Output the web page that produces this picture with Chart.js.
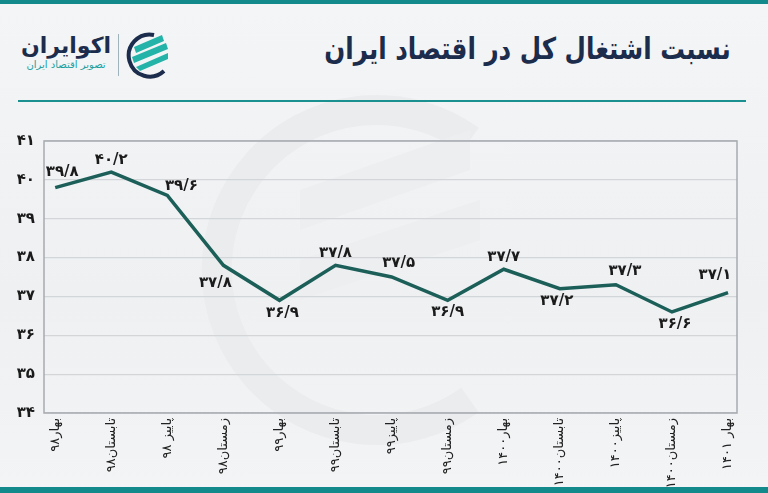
<!DOCTYPE html>
<html lang="fa">
<head>
<meta charset="utf-8">
<script src="https://cdn.jsdelivr.net/npm/chart.js@4"></script>
<style>
  html,body{margin:0;padding:0;}
  body{width:768px;height:493px;position:relative;overflow:hidden;
       background:linear-gradient(180deg,#f4f5f6 0%,#eef0f2 60%,#f3f4f5 100%);
       font-family:"DejaVu Sans",sans-serif;}
  .band{position:absolute;left:0;width:768px;background:#12898a;}
  #title{position:absolute;right:37px;top:31px;direction:rtl;font-weight:bold;
         font-size:30px;color:#1c2c4c;white-space:nowrap;letter-spacing:-0.5px;
         transform:scaleX(0.82);transform-origin:right center;}
  #rule{position:absolute;left:18px;width:728px;top:100px;height:2px;background:#1a9090;}
  #brand{position:absolute;left:16px;top:33px;width:100px;direction:rtl;text-align:center;}
  #brand .n{font-weight:bold;font-size:22px;color:#1c2c4c;line-height:25px;}
  #brand .s{font-size:10px;color:#1ca0a0;line-height:14px;}
  #sep{position:absolute;left:118px;top:34px;width:1px;height:42px;background:#9fb3bb;}
  #icon{position:absolute;left:124px;top:31px;}
  #wm{position:absolute;left:0;top:0;}
  canvas{position:absolute;left:0;top:0;}
</style>
</head>
<body>
<svg id="wm" width="768" height="493">
  <path d="M 470 140 A 160 160 0 1 0 470 400" fill="none" stroke="#eaecee" stroke-width="30"/>
  <path d="M 300 190 L 470 130 L 470 170 L 300 230 Z" fill="#eceef0"/>
  <path d="M 300 260 L 480 200 L 480 240 L 300 300 Z" fill="#eceef0"/>
</svg>
<div class="band" style="top:0;height:4px;"></div>
<div class="band" style="top:487px;height:6px;"></div>
<div id="title">نسبت اشتغال کل در اقتصاد ایران</div>
<div id="rule"></div>
<div id="brand"><div class="n">اکوایران</div><div class="s">تصویر اقتصاد ایران</div></div>
<div id="sep"></div>
<svg id="icon" width="48" height="48" viewBox="0 0 48 48">
  <path d="M 30 4 A 21 21 0 1 0 40 40" fill="none" stroke="#1c2c4c" stroke-width="4"/>
  <path d="M 10 16 L 38 4 L 40 10 L 12 22 Z" fill="#23b3a8"/>
  <path d="M 8 26 L 42 12 L 44 18 L 10 32 Z" fill="#23b3a8"/>
  <path d="M 12 36 L 44 22 L 44 28 L 16 40 Z" fill="#23b3a8"/>
</svg>
<canvas id="c" width="768" height="493"></canvas>
<script>
// ---- data ----
const categories = ["بهار۹۸","تابستان۹۸","پاییز ۹۸","زمستان۹۸","بهار۹۹","تابستان۹۹","پاییز۹۹","زمستان۹۹","بهار۱۴۰۰","تابستان۱۴۰۰","پاییز۱۴۰۰","زمستان۱۴۰۰","بهار ۱۴۰۱"];
const employmentRatio = [39.8, 40.2, 39.6, 37.8, 36.9, 37.8, 37.5, 36.9, 37.7, 37.2, 37.3, 36.6, 37.1];
const yTicks = [34, 35, 36, 37, 38, 39, 40, 41];

// ---- styling (label offsets from each point, px) ----
const labelOffsets = [[7,-16],[0,-12],[14,-9],[-8,18],[3,13],[0,-12],[7,-14],[0,12],[0,-12],[-3,12],[9,-14],[3,12],[-13,-17]];

const toFa = v => String(v).replace(/\d/g, d => "۰۱۲۳۴۵۶۷۸۹"[d]).replace(".", "/");
const FONT = "DejaVu Sans";

const boxPlugin = {
  id: "box",
  beforeDatasetsDraw(chart) {
    const a = chart.chartArea, ctx = chart.ctx;
    ctx.save();
    ctx.strokeStyle = "#a7abb0";
    ctx.lineWidth = 1.5;
    ctx.strokeRect(a.left, a.top, a.right - a.left, a.bottom - a.top);
    ctx.restore();
  }
};
const labelPlugin = {
  id: "vlabels",
  afterDatasetsDraw(chart) {
    const ctx = chart.ctx;
    const meta = chart.getDatasetMeta(0);
    ctx.save();
    ctx.font = "bold 15px '" + FONT + "'";
    ctx.fillStyle = "#1b1b1b";
    ctx.textAlign = "center";
    ctx.textBaseline = "middle";
    meta.data.forEach((pt, i) => {
      const o = labelOffsets[i];
      ctx.fillText(toFa(employmentRatio[i]), pt.x + o[0], pt.y + o[1]);
    });
    ctx.restore();
  }
};

new Chart(document.getElementById("c"), {
  type: "line",
  data: {
    datasets: [{
      data: employmentRatio.map((v, i) => ({ x: i, y: v })),
      borderColor: "#1c5f59",
      borderWidth: 3.5,
      pointRadius: 0,
      tension: 0,
      fill: false
    }]
  },
  options: {
    responsive: false,
    animation: false,
    layout: { padding: { top: 141, right: 31, left: 0, bottom: 0 } },
    plugins: { legend: { display: false }, tooltip: { enabled: false } },
    scales: {
      x: {
        type: "linear",
        min: -0.2,
        max: 12.16,
        afterBuildTicks: s => { s.ticks = categories.map((_, i) => ({ value: i })); },
        afterFit: s => { s.height = 80; },
        grid: { display: false, drawTicks: false },
        border: { display: false },
        ticks: {
          autoSkip: false,
          minRotation: 90,
          maxRotation: 90,
          padding: 5,
          color: "#222222",
          font: { family: FONT, size: 13 },
          callback: v => categories[v]
        }
      },
      y: {
        min: 34,
        max: 41,
        afterBuildTicks: s => { s.ticks = yTicks.map(v => ({ value: v })); },
        afterFit: s => { s.width = 44; },
        grid: { color: "#d3d6d9", lineWidth: 1.2, drawTicks: false },
        border: { display: false },
        ticks: {
          padding: 9,
          color: "#1b1b1b",
          font: { family: FONT, size: 15, weight: "bold" },
          callback: v => toFa(v)
        }
      }
    }
  },
  plugins: [boxPlugin, labelPlugin]
});
</script>
</body>
</html>
